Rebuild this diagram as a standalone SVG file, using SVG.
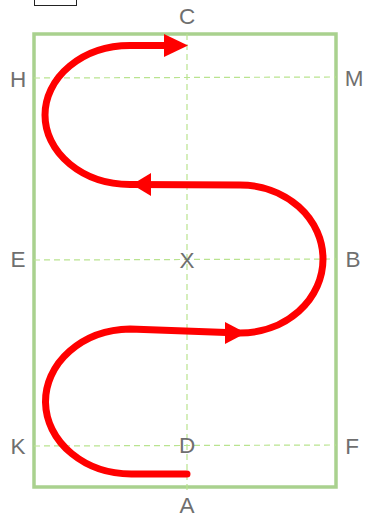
<svg xmlns="http://www.w3.org/2000/svg" width="365" height="519" viewBox="0 0 365 519">
<style>
.lbl{font-family:"Liberation Sans",Arial,sans-serif;font-size:22.5px;fill:#6f6f6f;text-anchor:middle;dominant-baseline:central}
.grid{stroke:#b9e38f;stroke-width:1.2;stroke-dasharray:6,4;fill:none}
.route{stroke:#ff0000;stroke-width:7;fill:none;stroke-linecap:round;stroke-linejoin:round}
.head{fill:#ff0000}
</style>
<rect x="34.5" y="-3" width="42" height="8.5" fill="#fff" stroke="#222" stroke-width="1"/>
<g id="arena">
<rect x="34" y="34" width="302" height="453" fill="none" stroke="#a9d18e" stroke-width="3.5"/>
</g>
<g id="gridlines">
<line class="grid" x1="187" y1="34" x2="187" y2="490"/>
<line class="grid" x1="34" y1="78" x2="336" y2="77"/>
<line class="grid" x1="34" y1="260" x2="336" y2="259"/>
<line class="grid" x1="34" y1="446" x2="336" y2="445"/>
</g>
<g id="labels">
<text class="lbl" x="187" y="16">C</text>
<text class="lbl" x="18" y="79">H</text>
<text class="lbl" x="354" y="78">M</text>
<text class="lbl" x="18" y="259">E</text>
<text class="lbl" x="187" y="260">X</text>
<text class="lbl" x="353" y="259">B</text>
<text class="lbl" x="18" y="446">K</text>
<text class="lbl" x="187" y="445">D</text>
<text class="lbl" x="352" y="446">F</text>
<text class="lbl" x="187" y="505">A</text>
</g>
<g id="connectors">
<path class="route" d="M187,474 L133,474 A86,72.5 0 0 1 130,329 L240,333 A83,74 0 0 0 240,185 L130,184.5 A85,69.5 0 0 1 130,45.5 L175,45.5"/>
<polygon class="head" points="188,45.5 164,34 164,57"/>
<polygon class="head" points="132,184.5 151,173 151,196"/>
<polygon class="head" points="246,333 225,322 225,344"/>
</g>
</svg>
